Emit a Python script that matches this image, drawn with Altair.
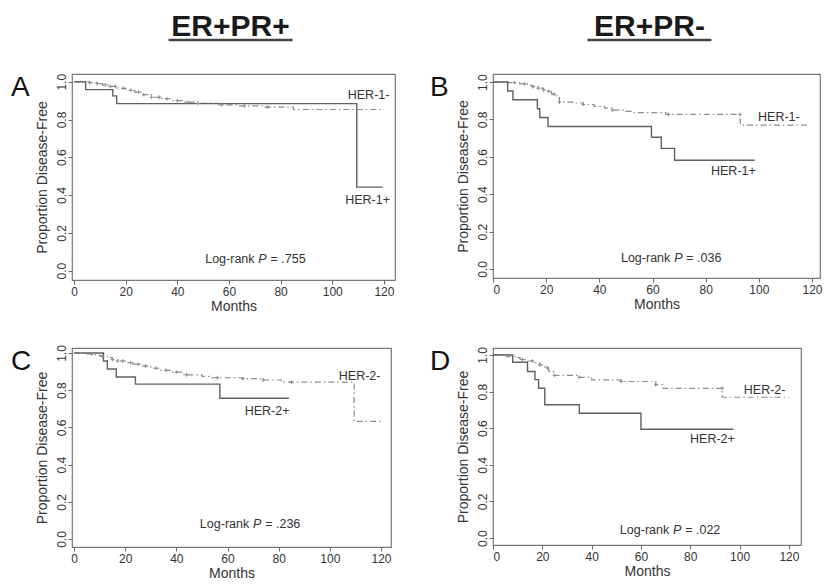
import altair as alt
import pandas as pd

FONT = "Liberation Sans"

X_TICKS = [0, 20, 40, 60, 80, 100, 120]
Y_TICKS = [0.0, 0.2, 0.4, 0.6, 0.8, 1.0]

# ---- Panel A: ER+PR+, HER-1 ----
A_neg_t = [0, 6, 9, 11, 14, 17, 20, 23.5, 26, 30, 34, 38, 43, 48, 56, 63, 74, 85, 120]
A_neg_s = [1.0, 0.995, 0.99, 0.983, 0.975, 0.965, 0.955, 0.945, 0.932, 0.918, 0.91, 0.9, 0.892, 0.885, 0.878, 0.872, 0.866, 0.853, 0.853]
A_pos_t = [0, 4.5, 15, 16.5, 109.5, 119.5]
A_pos_s = [1.0, 0.958, 0.925, 0.884, 0.442, 0.442]
A_cens = [6, 9, 12, 14, 16, 19, 22, 25, 27, 30, 33, 36, 40, 44, 48, 57, 66, 75]

# ---- Panel B: ER+PR-, HER-1 ----
B_neg_t = [0, 6, 10, 13, 15, 17, 19, 20, 22, 24, 25, 30, 34, 38, 42, 45, 50, 53, 65, 93, 118]
B_neg_s = [1.0, 0.997, 0.99, 0.982, 0.975, 0.967, 0.958, 0.95, 0.935, 0.915, 0.893, 0.888, 0.88, 0.87, 0.86, 0.85, 0.843, 0.836, 0.827, 0.77, 0.77]
B_pos_t = [0, 5.5, 7.5, 16.7, 17.6, 20.7, 59.6, 63.3, 68.3, 98.4]
B_pos_s = [1.0, 0.952, 0.905, 0.857, 0.81, 0.762, 0.705, 0.645, 0.582, 0.582]
B_cens = [8, 12, 15, 17, 19, 21, 23, 25, 34, 45, 66, 92.9]

# ---- Panel C: ER+PR+, HER-2 ----
C_neg_t = [0, 5, 8, 10, 13, 15, 17, 20, 23, 26, 30, 34, 38, 43, 50, 54, 66, 73, 81, 109.5, 120]
C_neg_s = [1.0, 0.995, 0.99, 0.983, 0.975, 0.965, 0.957, 0.948, 0.94, 0.93, 0.918, 0.907, 0.897, 0.883, 0.874, 0.867, 0.862, 0.855, 0.843, 0.632, 0.632]
C_pos_t = [0, 11.5, 13, 16.5, 24, 57, 84]
C_pos_s = [1.0, 0.957, 0.914, 0.871, 0.833, 0.757, 0.757]
C_cens = [7, 11, 15, 17, 19, 22, 25, 28, 32, 36, 40, 44, 56, 66, 74, 85]

# ---- Panel D: ER+PR-, HER-2 ----
D_neg_t = [0, 6, 9, 11, 14, 17, 19, 21, 22.5, 24.5, 34, 40, 52, 66, 69, 93, 120]
D_neg_s = [1.0, 0.993, 0.985, 0.975, 0.967, 0.958, 0.946, 0.93, 0.912, 0.888, 0.878, 0.864, 0.855, 0.838, 0.818, 0.769, 0.769]
D_pos_t = [0, 8, 14, 17, 18.5, 21, 35, 60, 97.5]
D_pos_s = [1.0, 0.96, 0.91, 0.865, 0.818, 0.728, 0.682, 0.594, 0.594]
D_cens = [6, 12, 16, 19, 22, 25, 35, 52, 66, 92.9]

NEG_COLOR = "#8c8c8c"
POS_COLOR = "#606060"
TEXT_COLOR = "#333333"


def surv_at(ts, ss, x):
    v = ss[0]
    for ti, si in zip(ts, ss):
        if ti <= x:
            v = si
    return v


def panel(neg_t, neg_s, pos_t, pos_s, cens, neg_lab, pos_lab, p_val, p_x, p_y,
          xdom, ydom, w, h, letter, letter_dx, title=None, title_dx=0):
    xs = alt.Scale(domain=xdom, nice=False, zero=False)
    ys = alt.Scale(domain=ydom, nice=False, zero=False)
    xax = alt.Axis(values=X_TICKS, title="Months", format="d")
    yax = alt.Axis(values=Y_TICKS, format=".1f", title="Proportion Disease-Free",
                   labelAngle=-90, labelAlign="center", labelBaseline="alphabetic",
                   labelPadding=3, titlePadding=6)
    X = alt.X("month:Q", scale=xs, axis=xax)
    Y = alt.Y("surv:Q", scale=ys, axis=yax)

    df_neg = pd.DataFrame({"month": neg_t, "surv": neg_s})
    df_pos = pd.DataFrame({"month": pos_t, "surv": pos_s})
    df_c = pd.DataFrame({"month": cens, "surv": [surv_at(neg_t, neg_s, c) for c in cens]})

    neg = alt.Chart(df_neg).mark_line(interpolate="step-after", color=NEG_COLOR,
                                      strokeDash=[6, 3, 1.5, 3], strokeWidth=1.2).encode(x=X, y=Y)
    pos = alt.Chart(df_pos).mark_line(interpolate="step-after", color=POS_COLOR,
                                      strokeWidth=1.4).encode(x=X, y=Y)
    cpts = alt.Chart(df_c).mark_point(shape="M-1,0L1,0M0,-1L0,1", filled=False, size=14,
                                      strokeWidth=1.0, color=NEG_COLOR, opacity=1).encode(x=X, y=Y)

    df_lab = pd.DataFrame({"month": [neg_lab[1], pos_lab[1]], "surv": [neg_lab[2], pos_lab[2]],
                           "label": [neg_lab[0], pos_lab[0]]})
    labs = alt.Chart(df_lab).mark_text(align="left", baseline="alphabetic", font=FONT,
                                       fontSize=12.5, color=TEXT_COLOR).encode(x=X, y=Y, text="label:N")

    df_p = pd.DataFrame({"month": [p_x], "surv": [p_y], "a": ["Log-rank"], "b": ["P"], "c": ["= " + p_val]})
    lr1 = alt.Chart(df_p).mark_text(align="right", baseline="alphabetic", font=FONT, fontSize=12.5,
                                    color=TEXT_COLOR, dx=-8).encode(x=X, y=Y, text="a:N")
    lr2 = alt.Chart(df_p).mark_text(align="center", baseline="alphabetic", font=FONT, fontSize=12.5,
                                    fontStyle="italic", color=TEXT_COLOR).encode(x=X, y=Y, text="b:N")
    lr3 = alt.Chart(df_p).mark_text(align="left", baseline="alphabetic", font=FONT, fontSize=12.5,
                                    color=TEXT_COLOR, dx=8).encode(x=X, y=Y, text="c:N")

    let = alt.Chart(pd.DataFrame({"letter": [letter]})).mark_text(
        align="left", baseline="alphabetic", font=FONT, fontSize=28, color="#111111"
    ).encode(x=alt.value(letter_dx), y=alt.value(22), text="letter:N")

    layers = [neg, pos, cpts, labs, lr1, lr2, lr3, let]
    if title is not None:
        cx = w / 2 + title_dx
        tdf = pd.DataFrame({"title": [title]})
        ttl = alt.Chart(tdf).mark_text(align="center", baseline="alphabetic", font=FONT,
                                       fontSize=30, fontWeight="bold", color="#1a1a1a").encode(
            x=alt.value(cx), y=alt.value(-38), text="title:N")
        und = alt.Chart(tdf).mark_rule(color="#444444", strokeWidth=2.5).encode(
            x=alt.value(cx - 62), x2=alt.value(cx + 62), y=alt.value(-34))
        layers += [ttl, und]
    return alt.layer(*layers).properties(width=w, height=h)


pA = panel(A_neg_t, A_neg_s, A_pos_t, A_pos_s, A_cens,
           ("HER-1-", 106, 0.908), ("HER-1+", 105, 0.352), ".755", 73, 0.04,
           [-0.8, 124.3], [-0.05, 1.041], 323, 206, "A", -61, title="ER+PR+", title_dx=-3)
pB = panel(B_neg_t, B_neg_s, B_pos_t, B_pos_s, B_cens,
           ("HER-1-", 99.7, 0.79), ("HER-1+", 82, 0.504), ".036", 69.7, 0.038,
           [0, 123], [-0.048, 1.043], 327, 204, "B", -63, title="ER+PR-", title_dx=-7)
pC = panel(C_neg_t, C_neg_s, C_pos_t, C_pos_s, C_cens,
           ("HER-2-", 103.5, 0.855), ("HER-2+", 66.7, 0.665), ".236", 71.6, 0.058,
           [-0.8, 123.9], [-0.043, 1.027], 319, 199, "C", -61)
pD = panel(D_neg_t, D_neg_s, D_pos_t, D_pos_s, D_cens,
           ("HER-2-", 101.7, 0.787), ("HER-2+", 79.9, 0.519), ".022", 74.7, 0.022,
           [0, 124.9], [-0.038, 1.038], 308, 197, "D", -63)

chart = alt.concat(pA, pB, pC, pD, columns=2, spacing={"row": 68, "column": 98},
                   bounds="flush").properties(
    padding={"left": 2, "top": 3, "right": 0, "bottom": 0}
).configure_view(
    stroke="#777777", strokeWidth=1.2
).configure_axis(
    grid=False, domain=False, tickColor="#666666", tickSize=4, labelFont=FONT, titleFont=FONT,
    labelFontSize=12, titleFontSize=14, labelColor=TEXT_COLOR, titleColor=TEXT_COLOR,
    titleFontWeight="normal", labelPadding=2, titlePadding=2
)

chart.save("out.html", embed_options={"renderer": "svg", "actions": False})
